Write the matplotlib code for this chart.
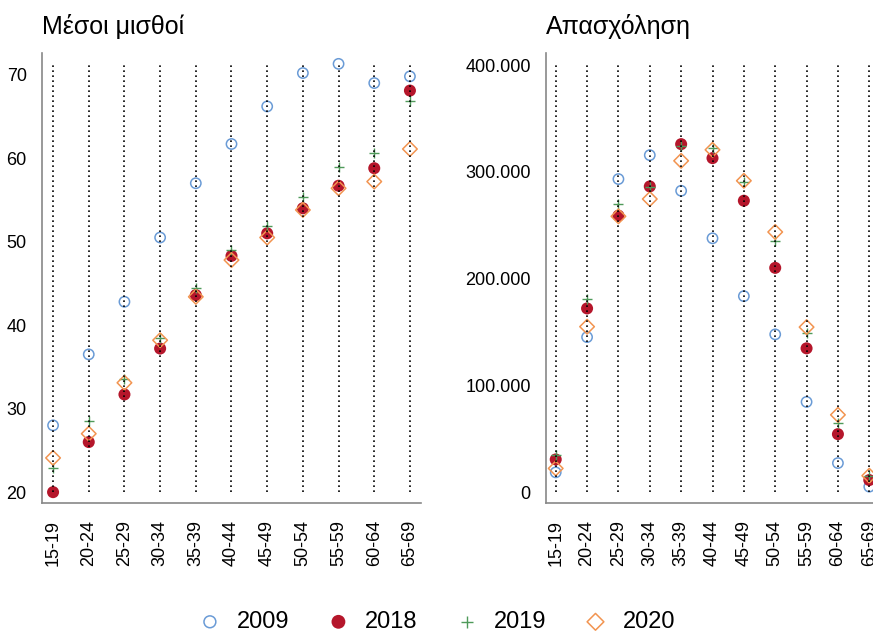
import numpy as np
import matplotlib
matplotlib.use("Agg")
import matplotlib.pyplot as plt
from matplotlib.ticker import FuncFormatter

plt.rcParams['font.family'] = ['Liberation Sans', 'DejaVu Sans']

# --- data ---
age_groups = ["15-19", "20-24", "25-29", "30-34", "35-39", "40-44",
              "45-49", "50-54", "55-59", "60-64", "65-69"]
years = ["2009", "2018", "2019", "2020"]

# average wages
wage_2009 = [28.0, 36.5, 42.8, 50.5, 57.0, 61.7, 66.2, 70.2, 71.3, 69.0, 69.8]
wage_2018 = [20.0, 26.0, 31.7, 37.2, 43.6, 48.3, 51.0, 54.0, 56.7, 58.8, 68.1]
wage_2019 = [22.9, 28.5, 33.6, 38.5, 44.4, 49.0, 51.9, 55.4, 59.0, 60.6, 66.8]
wage_2020 = [24.1, 27.0, 33.1, 38.2, 43.4, 47.8, 50.5, 53.8, 56.4, 57.2, 61.1]

# employment
emp_2009 = [18400, 145100, 293200, 315600, 282200, 237700, 183500, 147700, 84400, 27100, 5000]
emp_2018 = [30500, 172000, 258900, 286300, 325900, 312800, 272900, 210000, 134600, 54200, 11200]
emp_2019 = [34600, 181000, 270100, 285300, 324000, 322700, 290000, 235200, 149200, 64500, 15300]
emp_2020 = [22100, 154900, 258300, 274500, 310300, 320600, 291600, 243600, 154500, 72300, 15300]

styles = {
    "2009": dict(marker="o", s=55, facecolors="none", edgecolors="#6a9bd6", linewidths=1.1),
    "2018": dict(marker="o", s=75, color="#b5162b", edgecolors="none"),
    "2019": dict(marker="+", s=55, color="#4f9a5a", linewidths=1.0),
    "2020": dict(marker="D", s=55, facecolors="none", edgecolors="#f29450", linewidths=1.1),
}

fig = plt.figure(figsize=(8.73, 6.31), dpi=100)
ax1 = fig.add_axes([42 / 873, 1 - 503 / 631, (421 - 42) / 873, (503 - 53) / 631])
ax2 = fig.add_axes([546 / 873, 1 - 503 / 631, (879 - 546) / 873, (503 - 53) / 631])

x = np.arange(len(age_groups))


def draw_panel(ax, series, lo, hi, pad, title):
    for yr, vals in zip(years, series):
        ax.scatter(x, vals, label=yr, zorder=2, **styles[yr])
    ax.vlines(x, lo, hi, colors="black", linestyles=(0, (1, 2.0)), linewidth=1.2, zorder=3)
    ax.set_xlim(-0.31, len(age_groups) - 1 + 0.31)
    ax.set_ylim(lo - pad, hi + pad)
    ax.set_xticks(x)
    ax.set_xticklabels(age_groups, rotation=90, fontsize=13)
    ax.tick_params(axis="y", labelsize=13, length=0, pad=11)
    ax.tick_params(axis="x", length=0, pad=12)
    for side in ["top", "right"]:
        ax.spines[side].set_visible(False)
    for side in ["left", "bottom"]:
        ax.spines[side].set_color("#888888")
        ax.spines[side].set_linewidth(1.2)
    ax.set_title(title, loc="left", fontsize=18, pad=14, x=0.0)


draw_panel(ax1, [wage_2009, wage_2018, wage_2019, wage_2020], 20, 71.3, 1.3, "Μέσοι μισθοί")
ax1.set_yticks([20, 30, 40, 50, 60, 70])

draw_panel(ax2, [emp_2009, emp_2018, emp_2019, emp_2020], 0, 401000, 10300, "Απασχόληση")
ax2.set_yticks([0, 100000, 200000, 300000, 400000])
ax2.yaxis.set_major_formatter(FuncFormatter(lambda v, p: f"{int(v):,}".replace(",", ".")))

handles, labels = ax1.get_legend_handles_labels()
fig.legend(handles, labels, loc="center", bbox_to_anchor=(0.5, 1 - 622 / 631),
           ncol=4, frameon=False, fontsize=17, handletextpad=0.64,
           columnspacing=1.58, handlelength=1.0, markerscale=1.15)

fig.savefig("out.png", dpi=100)
